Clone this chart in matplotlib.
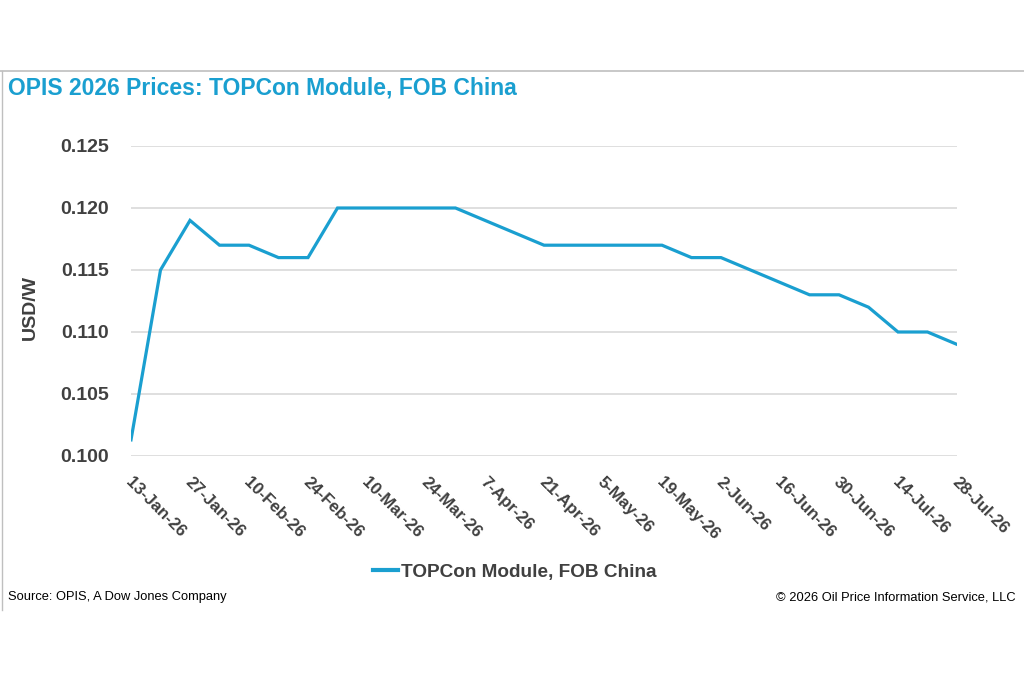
"""OPIS TOPCon module price chart, FOB China, 2026."""

import matplotlib
matplotlib.use("Agg")
import matplotlib.pyplot as plt
import matplotlib.transforms as mtransforms
from matplotlib.lines import Line2D
import pandas as pd

# Weekly assessment dates and prices (USD/W)
week_dates = [
    "2026-01-13", "2026-01-20", "2026-01-27", "2026-02-03", "2026-02-10",
    "2026-02-17", "2026-02-24", "2026-03-03", "2026-03-10", "2026-03-17",
    "2026-03-24", "2026-03-31", "2026-04-07", "2026-04-14", "2026-04-21",
    "2026-04-28", "2026-05-05", "2026-05-12", "2026-05-19", "2026-05-26",
    "2026-06-02", "2026-06-09", "2026-06-16", "2026-06-23", "2026-06-30",
    "2026-07-07", "2026-07-14", "2026-07-21", "2026-07-28",
]
prices = [
    0.1013, 0.115, 0.119, 0.117, 0.117,
    0.116, 0.116, 0.120, 0.120, 0.120,
    0.120, 0.120, 0.119, 0.118, 0.117,
    0.117, 0.117, 0.117, 0.117, 0.116,
    0.116, 0.115, 0.114, 0.113, 0.113,
    0.112, 0.110, 0.110, 0.109,
]
y_ticks = [0.100, 0.105, 0.110, 0.115, 0.120, 0.125]

series_name = "TOPCon Module, FOB China"
title = "OPIS 2026 Prices: TOPCon Module, FOB China"

LINE_COLOR = "#1a9fd0"
TITLE_COLOR = "#1a9fd0"
TEXT_COLOR = "#404040"
GRID_COLOR = "#d9d9d9"
FRAME_COLOR = "#bfbfbf"

dates = pd.to_datetime(week_dates)

plt.rcParams["font.family"] = ["Liberation Sans", "DejaVu Sans"]

fig = plt.figure(figsize=(10.24, 6.83), dpi=100)
fig.patch.set_facecolor("white")

# Axes placed to match the reference plot area
ax = fig.add_axes([131 / 1024, 1 - 456 / 683, (957 - 131) / 1024, (456 - 146) / 683])

ax.plot(dates, prices, color=LINE_COLOR, linewidth=2.3, label=series_name,
        solid_joinstyle="miter")

ax.set_xlim(dates[0], dates[-1])
ax.set_ylim(y_ticks[0], y_ticks[-1])
ax.set_yticks(y_ticks)
ax.set_yticklabels([f"{v:.3f}" for v in y_ticks])

# Tick every second week
ax.set_xticks(dates[::2])
ax.set_xticklabels([f"{d.day}-{d.strftime('%b-%y')}" for d in dates[::2]])

ax.grid(axis="y", color=GRID_COLOR, linewidth=1.2)
ax.set_axisbelow(True)
for spine in ax.spines.values():
    spine.set_visible(False)

ax.tick_params(axis="y", length=0, pad=16, labelsize=14, labelcolor=TEXT_COLOR)
ax.tick_params(axis="x", length=0, pad=13, labelsize=12.2, labelcolor=TEXT_COLOR)
for lbl in ax.get_yticklabels():
    lbl.set_fontweight("bold")
shift = mtransforms.ScaledTranslation(2.5 / 100, 0, fig.dpi_scale_trans)
for lbl in ax.get_xticklabels():
    lbl.set_fontweight("bold")
    lbl.set_rotation(-45)
    lbl.set_ha("left")
    lbl.set_va("top")
    lbl.set_rotation_mode("anchor")
    lbl.set_transform(lbl.get_transform() + shift)

fig.text(30 / 1024, 1 - 307 / 683, "USD/W", rotation=90, ha="center", va="center",
         fontsize=14, fontweight="bold", color=TEXT_COLOR)

# Title
fig.text(8 / 1024, 1 - 88 / 683, title, ha="left", va="center",
         fontsize=16.5, fontweight="bold", color=TITLE_COLOR)

# Legend below the plot
handles = [Line2D([0], [0], color=LINE_COLOR, linewidth=3)]
leg = fig.legend(handles, [series_name], loc="center",
                 bbox_to_anchor=(515 / 1024, 1 - 572 / 683), frameon=False,
                 handlelength=1.3, handletextpad=0.15,
                 prop={"size": 13.7, "weight": "bold"})
for t in leg.get_texts():
    t.set_color(TEXT_COLOR)

# Footer
fig.text(8 / 1024, 1 - 597 / 683, "Source: OPIS, A Dow Jones Company",
         ha="left", va="center", fontsize=9.3, color="black")
fig.text(1016 / 1024, 1 - 597 / 683, "\u00a9 2026 Oil Price Information Service, LLC",
         ha="right", va="center", fontsize=9.3, color="black")

# Chart frame lines (top and left)
fig.add_artist(Line2D([0, 1], [1 - 71 / 683, 1 - 71 / 683],
                      transform=fig.transFigure, color=FRAME_COLOR, linewidth=1.2))
fig.add_artist(Line2D([1.5 / 1024, 1.5 / 1024], [1 - 71 / 683, 1 - 610 / 683],
                      transform=fig.transFigure, color=FRAME_COLOR, linewidth=1.0))

fig.savefig("out.png", dpi=100, facecolor="white")
plt.close(fig)
